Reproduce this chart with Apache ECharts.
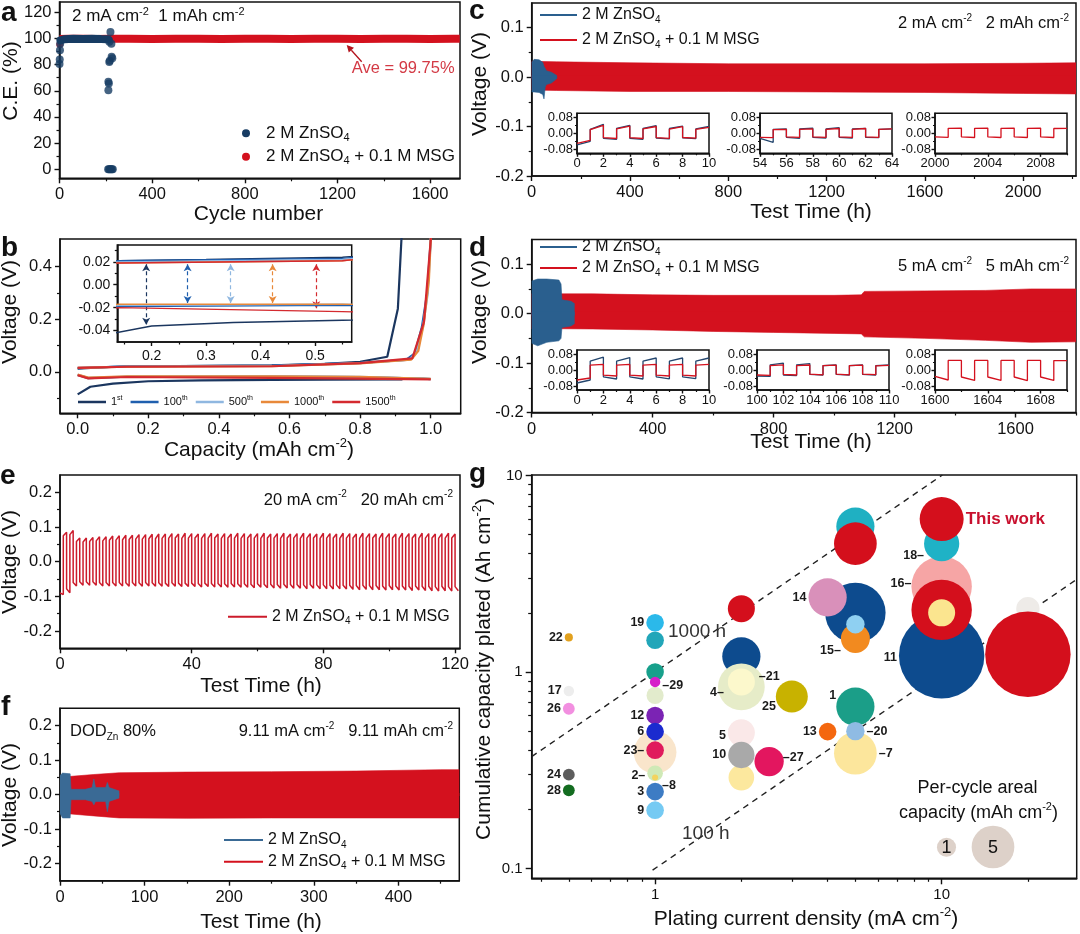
<!DOCTYPE html>
<html><head><meta charset="utf-8">
<script src="https://cdn.jsdelivr.net/npm/echarts@6/dist/echarts.min.js"></script>
<style>html,body{margin:0;padding:0;background:#fff}#chart{width:1080px;height:934px}</style>
</head><body><div id="chart"></div>
<script>
// ================= DATA =================
// (a) Coulombic efficiency vs cycle
const aCyclesMSG = [0,40,100,160,220,300,400,500,600,700,800,900,1000,1100,1200,1300,1400,1500,1600,1700,1728];
const aCE_MSG    = [99.6,99.8,99.8,99.7,99.8,99.8,99.7,99.8,99.8,99.7,99.8,99.8,99.7,99.8,99.8,99.7,99.8,99.8,99.7,99.8,99.8];
const aCyclesMSGPts = [1];
const aCE_MSGPts    = [95.5];
const aCyclesZnBand = [4,20,60,100,140,180,205,212];
const aCE_ZnBand    = [98.6,99.5,99.8,99.7,99.8,99.6,99.5,99.2];
const aCyclesZnPts  = [0,1,2,3,211,211,213,215,217,225,228,220,224,215,210,214,218,222,226,230];
const aCE_ZnPts     = [80.5,84,91,96,67,60.5,65.5,82,83,86,85,105,96,97.5,0,0,0,0,0,0];

// (b) voltage profiles [capacity, voltage]
const b1stStrip  = [[0,0.012],[0.05,0.016],[0.14,0.021],[0.3,0.022],[0.55,0.024],[0.7,0.03],[0.8,0.038],[0.877,0.057],[0.907,0.24],[0.917,0.5],[0.92,0.56]];
const b1stPlate  = [[0,-0.086],[0.036,-0.057],[0.1,-0.045],[0.2,-0.036],[0.35,-0.033],[0.55,-0.031],[0.7,-0.03],[0.92,-0.029]];
const b100Strip  = [[0,0.014],[0.14,0.021],[0.55,0.023],[0.8,0.034],[0.93,0.045],[0.955,0.07],[0.975,0.17],[0.99,0.3],[1.0,0.5],[1.003,0.56]];
const b100Plate  = [[0,-0.012],[0.03,-0.024],[0.14,-0.019],[0.55,-0.018],[0.8,-0.02],[0.98,-0.026],[1.0,-0.028]];
const b500Strip  = [[0,0.015],[0.14,0.02],[0.55,0.022],[0.8,0.033],[0.94,0.046],[0.96,0.075],[0.978,0.17],[0.992,0.3],[1.0,0.5],[1.003,0.56]];
const b500Plate  = [[0,-0.012],[0.03,-0.023],[0.14,-0.018],[0.55,-0.017],[0.8,-0.019],[1.0,-0.027]];
const b1000Strip = [[0,0.015],[0.14,0.019],[0.55,0.021],[0.8,0.032],[0.945,0.046],[0.965,0.08],[0.98,0.18],[0.995,0.35],[1.0,0.5],[1.003,0.56]];
const b1000Plate = [[0,-0.011],[0.03,-0.022],[0.14,-0.017],[0.55,-0.017],[0.8,-0.019],[1.0,-0.027]];
const b1500Strip = [[0,0.015],[0.14,0.019],[0.55,0.021],[0.8,0.033],[0.948,0.051],[0.981,0.19],[1.0,0.5],[1.003,0.56]];
const b1500Plate = [[0,-0.013],[0.03,-0.025],[0.14,-0.02],[0.55,-0.0235],[0.8,-0.026],[1.0,-0.029]];
const bArrowX      = [0.19,0.266,0.345,0.422,0.502];
const bArrowTop    = [0.018,0.018,0.018,0.018,0.018];
const bArrowBottom = [-0.035,-0.016,-0.016,-0.016,-0.0205];

// (c) envelope of the cycling band, 2 mA cm-2
const cTimeRed  = [0,100,400,800,1200,1600,2000,2215];
const cRedUp    = [0.032,0.031,0.029,0.027,0.027,0.027,0.028,0.029];
const cRedLow   = [-0.026,-0.027,-0.029,-0.029,-0.030,-0.031,-0.033,-0.034];
const cTimeBlue = [0,10,30,45,50,55,60,80,100,103];
const cBlueUp   = [0.03,0.036,0.035,0.03,0.022,0.018,0.013,0.01,0.004,0.001];
const cBlueLow  = [-0.03,-0.03,-0.031,-0.035,-0.044,-0.02,-0.015,-0.012,-0.004,-0.001];
// (c) insets: [start, end] voltage of each 1-h half cycle
const cIn1Start = 0, cIn2Start = 54, cIn3Start = 2000;
const cIn1Red  = [[-0.05,-0.035],[0.018,0.04],[-0.022,-0.026],[0.022,0.036],[-0.022,-0.026],[0.022,0.034],[-0.022,-0.025],[0.021,0.033],[-0.021,-0.024],[0.02,0.03]];
const cIn1Blue = [[-0.058,-0.04],[0.02,0.045],[-0.025,-0.03],[0.025,0.04],[-0.025,-0.03],[0.024,0.038],[-0.024,-0.028],[0.024,0.036],[-0.023,-0.027],[0.022,0.034]];
const cIn2Red  = [[-0.02,-0.022],[0.018,0.02],[-0.018,-0.02],[0.02,0.022],[-0.018,-0.02],[0.02,0.024],[-0.018,-0.02],[0.02,0.024],[-0.018,-0.02],[0.02,0.022]];
const cIn2Blue = [[-0.025,-0.045],[0.02,0.022],[-0.02,-0.025],[0.022,0.026],[-0.02,-0.024],[0.022,0.028],[-0.02,-0.024],[0.022,0.025],[-0.02,-0.022],[0.02,0.022]];
const cIn3Red  = [[-0.018,-0.02],[0.025,0.026],[-0.018,-0.021],[0.025,0.026],[-0.018,-0.021],[0.025,0.026],[-0.018,-0.021],[0.025,0.026],[-0.018,-0.021],[0.024,0.025]];

// (d) 5 mA cm-2
const dTimeRed  = [0,200,400,600,800,1000,1090,1100,1300,1500,1650,1800];
const dRedUp    = [0.04,0.04,0.038,0.037,0.037,0.037,0.038,0.045,0.046,0.047,0.05,0.05];
const dRedLow   = [-0.03,-0.031,-0.033,-0.036,-0.038,-0.04,-0.041,-0.047,-0.05,-0.054,-0.058,-0.057];
const dTimeBlue = [0,20,50,90,97,100,130,142];
const dBlueUp   = [0.066,0.07,0.07,0.068,0.06,0.028,0.025,0.02];
const dBlueLow  = [-0.06,-0.065,-0.058,-0.055,-0.05,-0.028,-0.025,-0.02];
const dIn1Start = 0, dIn2Start = 100, dIn3Start = 1600;
const dIn1Red  = [[-0.05,-0.04],[0.024,0.028],[-0.026,-0.03],[0.024,0.028],[-0.026,-0.03],[0.024,0.028],[-0.026,-0.03],[0.024,0.028],[-0.026,-0.03],[0.024,0.028]];
const dIn1Blue = [[-0.065,-0.05],[0.044,0.064],[-0.034,-0.045],[0.044,0.062],[-0.034,-0.045],[0.044,0.06],[-0.034,-0.044],[0.044,0.06],[-0.034,-0.043],[0.044,0.06]];
const dIn2Red  = [[-0.025,-0.027],[0.022,0.026],[-0.022,-0.025],[0.022,0.025],[-0.021,-0.024],[0.022,0.024],[-0.021,-0.024],[0.022,0.024],[-0.021,-0.023],[0.021,0.023]];
const dIn2Blue = [[-0.03,-0.032],[0.026,0.034],[-0.025,-0.028],[0.026,0.032],[-0.022,-0.025],[0.022,0.025],[-0.022,-0.025],[0.022,0.025],[-0.022,-0.025],[0.022,0.025]];
const dIn3Red  = [[-0.032,-0.05],[0.048,0.048],[-0.035,-0.052],[0.048,0.048],[-0.035,-0.052],[0.048,0.048],[-0.035,-0.053],[0.048,0.048],[-0.035,-0.052],[0.047,0.047]];

// (e) 20 mA cm-2: per-cycle voltages (negative half then positive half)
const ePosStart = [0.075,0.078,0.058,0.057,0.058,0.060,0.060,0.062,0.062,0.063, 0.064,0.065,0.065,0.066,0.066,0.067,0.067,0.068,0.067,0.068, 0.068,0.067,0.068,0.068,0.067,0.068,0.068,0.067,0.068,0.068, 0.067,0.068,0.068,0.067,0.068,0.068,0.067,0.068,0.068,0.067, 0.068,0.068,0.067,0.068,0.068,0.067,0.068,0.068,0.067,0.068, 0.068,0.067,0.068,0.068,0.067,0.068,0.068,0.067,0.068,0.068];
const ePosEnd   = [0.085,0.090,0.068,0.068,0.070,0.072,0.072,0.074,0.075,0.076, 0.076,0.078,0.078,0.079,0.080,0.080,0.081,0.080,0.082,0.081, 0.080,0.081,0.082,0.080,0.081,0.080,0.082,0.081,0.080,0.081, 0.082,0.080,0.081,0.082,0.080,0.081,0.082,0.081,0.080,0.082, 0.081,0.080,0.082,0.081,0.080,0.082,0.081,0.080,0.082,0.081, 0.080,0.082,0.081,0.080,0.082,0.081,0.080,0.081,0.082,0.080];
const eNegStart = [-0.090,-0.078,-0.060,-0.058,-0.058,-0.058,-0.060,-0.060,-0.060,-0.060, -0.061,-0.060,-0.061,-0.060,-0.061,-0.061,-0.062,-0.061,-0.062,-0.062, -0.062,-0.063,-0.062,-0.063,-0.063,-0.064,-0.063,-0.064,-0.064,-0.065, -0.064,-0.065,-0.065,-0.066,-0.065,-0.066,-0.066,-0.067,-0.066,-0.067, -0.067,-0.068,-0.067,-0.068,-0.068,-0.069,-0.068,-0.069,-0.069,-0.070, -0.069,-0.070,-0.070,-0.071,-0.070,-0.071,-0.071,-0.072,-0.071,-0.072, -0.072];
const eNegEnd   = [-0.095,-0.090,-0.070,-0.068,-0.068,-0.068,-0.070,-0.070,-0.070,-0.070, -0.071,-0.070,-0.071,-0.070,-0.071,-0.071,-0.072,-0.071,-0.072,-0.072, -0.072,-0.073,-0.072,-0.073,-0.073,-0.074,-0.073,-0.074,-0.074,-0.075, -0.074,-0.075,-0.076,-0.077,-0.076,-0.077,-0.077,-0.078,-0.077,-0.078, -0.078,-0.079,-0.078,-0.079,-0.080,-0.081,-0.080,-0.081,-0.081,-0.082, -0.081,-0.082,-0.082,-0.083,-0.082,-0.083,-0.084,-0.085,-0.084,-0.085, -0.084];
const eHalfHours = 1;

// (f) DOD 80 %
const fTimeRed  = [0,10,40,70,150,250,350,450,472];
const fRedUp    = [0.05,0.052,0.058,0.063,0.065,0.066,0.068,0.072,0.072];
const fRedLow   = [-0.05,-0.056,-0.062,-0.068,-0.069,-0.068,-0.068,-0.068,-0.068];
const fTimeBlue = [0,3,12,13,30,38,40,42,54,56,58,70];
const fBlueUp   = [0.055,0.062,0.06,0.015,0.015,0.02,0.045,0.02,0.02,0.035,0.02,0.01];
const fBlueLow  = [-0.055,-0.068,-0.068,-0.015,-0.015,-0.02,-0.03,-0.02,-0.02,-0.05,-0.02,-0.01];

// (g) literature comparison bubbles (drawing order back to front)
const gCurrent    = [10,10,10,10,10,10,20,20,5,5,5,5,5,4,2,2,2,2,5,5,5,4,3,2,2,2,2.5,1,1,1,1,1,1,1,1,1,1,1,1,1,0.5,0.5,0.5,0.5,0.5];
const gCumulative = [1.21,2.72,2.07,2.0,4.5,6.0,2.1,1.23,5.5,4.5,2.0,1.48,1.75,2.4,2.1,1.2,0.84,0.89,0.386,0.666,0.5,0.497,0.75,0.49,0.29,0.378,0.35,0.39,1.45,1.78,1.0,0.76,0.89,0.6,0.497,0.40,0.305,0.29,0.246,0.198,1.5,0.8,0.65,0.3,0.25];
const gPerCycle   = [20,10,10,2,3.4,5.3,1.5,20,4,5,10,2.3,0.93,4,2,4,6,2,5,4,0.93,0.85,2.8,2,1.8,1.9,2.35,5,0.85,0.85,0.85,0.8,0.3,0.85,0.85,0.85,0.67,0.1,0.85,0.85,0.18,0.3,0.38,0.38,0.38];
const gRefNo      = ['11','16','','','18','This work','','','','','','15','','14','','','4','21','7','1','20','13','25','5','','10','27','','','19','','','29','12','6','23','2','8','3','9','22','17','26','24','28'];
const gRefHours   = [1000, 100];
const gRefLabels  = ['1000 h', '100 h'];

// ================= STYLE =================
const gColors = ['#0d4b8e','#f6a5a5','#d40f1c','#fbe58f','#1fb2c6','#d40f1c','#eeebe8','#d40f1c','#1fb0c2','#d40f1c','#0d4b8e','#f28a1f','#8fd0f2','#d990ba','#d40f1c','#0d4b8e','#e6ecc8','#fcf8cc','#fce69c','#1b9e88','#8fbbe3','#f4670f','#c8b200','#fae8e8','#fce89e','#a9a9a9','#e3165f','#f9e5cb','#22a6b9','#2bb9ea','#17a08b','#e2ebcc','#d61fc9','#7b23b4','#1b2bcf','#e01a5c','#cfe9b6','#f3d35e','#3d7cc4','#75caf3','#e2a11e','#ededed','#f28fe0','#5d5d5d','#136c20'];
const gPlace  = ['l','l-','','','l-','r','','','','','','l-','','l','','','l-','r-','r-','l','r-','l','l','l','','l','r-','','','l','','','r-','l','l','l-','l-','r-','l','l','l','l','l','l','l'];
const gOffset = {0:[0,2],1:[2,-3],4:[2,12],11:[2,12],16:[8,6],17:[2,-5],19:[2,-11],22:[2,10],23:[0,3],26:[-3,-4],32:[0,4],36:[0,2],37:[2,8]};

const FONT = '"Liberation Sans", Arial, Helvetica, sans-serif';
const RED = '#d4111e', BLUE = '#2a5f8e', NAVY = '#173c63';
const zip = (xs, ys) => xs.map((x, i) => [x, ys[i]]);
const rich = s => s.replace(/\^\{([^}]*)\}/g, '{sup|$1}').replace(/_\{([^}]*)\}/g, '{sub|$1}');
const richStyles = (fs, color) => ({
  sup: {fontSize: Math.round(fs * 0.62), lineHeight: Math.round(fs * 0.7), verticalAlign: 'top', fontFamily: FONT, color: color, fill: color},
  sub: {fontSize: Math.round(fs * 0.62), lineHeight: Math.round(fs * 0.7), verticalAlign: 'bottom', fontFamily: FONT, color: color, fill: color}
});
const stripName = n => rich(n.split('::')[1]);

const grids = [], xAxes = [], yAxes = [], series = [], legends = [], graphics = [];
function addGrid(l, t, w, h) {
  grids.push({left: l, top: t, width: w, height: h, show: true, borderColor: '#111', borderWidth: 1.5, backgroundColor: '#fff', containLabel: false});
  return grids.length - 1;
}
function mkAxis(dim, gi, o) {
  const list = dim === 'x' ? xAxes : yAxes;
  const common = {gridIndex: gi, type: o.type || 'value', min: o.min, max: o.max, position: dim === 'x' ? 'bottom' : 'left',
    splitLine: {show: false}, splitArea: {show: false}, silent: true};
  if (o.type === 'log') common.logBase = 10;
  const tl = o.tl || 5;
  list.push(Object.assign({}, common, {
    axisLine: {show: true, onZero: false, lineStyle: {color: '#111', width: 1.5}},
    axisTick: {show: true, customValues: o.major, length: tl, lineStyle: {color: '#111', width: 1.4}},
    axisLabel: {show: true, customValues: o.major, formatter: o.fmt, fontSize: o.fs || 16.5, fontFamily: FONT, color: '#111',
      margin: o.margin != null ? o.margin : tl + 3, hideOverlap: false}
  }));
  const idx = list.length - 1;
  if (o.minor) list.push(Object.assign({}, common, {
    axisLine: {show: false, onZero: false},
    axisTick: {show: true, customValues: o.minor, length: o.ml || 3, lineStyle: {color: '#111', width: 1.2}},
    axisLabel: {show: false}
  }));
  return idx;
}
const f1 = v => v.toFixed(1), f2 = v => v.toFixed(2), f0 = v => String(v);

function lineS(name, xi, yi, data, color, width, z, extra) {
  series.push(Object.assign({type: 'line', name, xAxisIndex: xi, yAxisIndex: yi, data, symbol: 'none', showSymbol: false,
    lineStyle: {color, width}, itemStyle: {color}, z: z || 2, silent: true, animation: false}, extra || {}));
  return series[series.length - 1];
}
// band: upper edge filled down past zero, lower edge filled up past zero (overlap hides the seam)
function band(name, xi, yi, times, up, low, color, z) {
  lineS(name, xi, yi, zip(times, up), color, 0.6, z, {areaStyle: {color, opacity: 1, origin: -0.004}});
  lineS(name, xi, yi, zip(times, low), color, 0.6, z, {areaStyle: {color, opacity: 1, origin: 0.004}});
}
function halfCycleWave(start, levels) {
  const pts = [];
  levels.forEach((lv, i) => { pts.push([start + i, lv[0]]); pts.push([start + i + 1, lv[1]]); });
  return pts;
}
function legendRow(name, left, centerY, opt) {
  const fs = opt.fs || 16;
  legends.push({show: true, selectedMode: false, padding: 0, orient: 'horizontal', left, top: centerY - 10,
    data: [name], icon: opt.icon || 'rect', itemWidth: opt.iw || 37, itemHeight: opt.ih || 2, itemGap: 8,
    formatter: stripName, textStyle: {fontSize: fs, fontFamily: FONT, color: '#111', lineHeight: 20, rich: richStyles(fs, '#111')}});
}
function T(t, x, y, fs, o) {
  o = o || {};
  const color = o.color || '#111';
  graphics.push({type: 'text', x, y, rotation: o.rot || 0, z: 100, silent: true,
    style: {text: rich(t), fill: color, fontSize: fs, fontFamily: FONT, fontWeight: o.bold ? 'bold' : 'normal',
      align: o.align || 'left', textAlign: o.align || 'left', verticalAlign: 'middle', textVerticalAlign: 'middle',
      lineHeight: Math.round(fs * 1.25), rich: richStyles(fs, color)}});
}

// ================= PANEL a =================
const gA = addGrid(59.5, 2, 400.5, 176.3);
const aX = mkAxis('x', gA, {min: 0, max: 1729, major: [0,400,800,1200,1600], minor: [200,600,1000,1400], fmt: f0});
const aY = mkAxis('y', gA, {min: -7, max: 128, major: [0,20,40,60,80,100,120], minor: [10,30,50,70,90,110], fmt: f0});
lineS('a::2 M ZnSO_{4} + 0.1 M MSG', aX, aY, zip(aCyclesMSG, aCE_MSG), RED, 8, 3, {lineStyle: {color: RED, width: 8, cap: 'butt'}});
series.push({type: 'scatter', name: 'a::2 M ZnSO_{4} + 0.1 M MSG', xAxisIndex: aX, yAxisIndex: aY, data: zip(aCyclesMSGPts, aCE_MSGPts), symbolSize: 7, itemStyle: {color: RED}, z: 3, silent: true});
lineS('a::2 M ZnSO_{4}', aX, aY, zip(aCyclesZnBand, aCE_ZnBand), NAVY, 8, 4, {lineStyle: {color: NAVY, width: 8, cap: 'round'}});
series.push({type: 'scatter', name: 'a::2 M ZnSO_{4}', xAxisIndex: aX, yAxisIndex: aY, data: zip(aCyclesZnPts, aCE_ZnPts), symbolSize: 8, itemStyle: {color: NAVY}, z: 5, silent: true});
legendRow('a::2 M ZnSO_{4}', 242, 133.3, {icon: 'circle', iw: 30, ih: 8, fs: 17});
legendRow('a::2 M ZnSO_{4} + 0.1 M MSG', 242, 156.7, {icon: 'circle', iw: 30, ih: 8, fs: 17});
// arrow for the average
(function () {
  const tail = [361.7, 61.7], tip = [346.7, 45];
  const dx = tip[0] - tail[0], dy = tip[1] - tail[1], L = Math.hypot(dx, dy), ux = dx / L, uy = dy / L;
  const bx = tip[0] - 7 * ux, by = tip[1] - 7 * uy, px = -uy, py = ux;
  graphics.push({type: 'polyline', z: 100, silent: true, shape: {points: [tail, [bx, by]]}, style: {stroke: '#b3121c', lineWidth: 1.3, fill: null}});
  graphics.push({type: 'polygon', z: 100, silent: true, shape: {points: [tip, [bx + 3.5 * px, by + 3.5 * py], [bx - 3.5 * px, by - 3.5 * py]]}, style: {fill: '#b3121c'}});
})();

// ================= PANEL b =================
const gB = addGrid(60, 239, 400.7, 174.3);
const bX = mkAxis('x', gB, {min: -0.05, max: 1.085, major: [0,0.2,0.4,0.6,0.8,1.0], minor: [0.1,0.3,0.5,0.7,0.9], fmt: f1});
const bY = mkAxis('y', gB, {min: -0.158, max: 0.505, major: [0,0.2,0.4], minor: [-0.1,0.1,0.3], fmt: f1});
const bCycles = [
  ['b::1^{st}', '#1b365f', b1stStrip, b1stPlate],
  ['b::100^{th}', '#1f5fae', b100Strip, b100Plate],
  ['b::500^{th}', '#8fb7e0', b500Strip, b500Plate],
  ['b::1000^{th}', '#e8893a', b1000Strip, b1000Plate],
  ['b::1500^{th}', '#d42a2f', b1500Strip, b1500Plate]
];
const gBi = addGrid(117.3, 245, 234.4, 97);
const biX = mkAxis('x', gBi, {min: 0.137, max: 0.567, major: [0.2,0.3,0.4,0.5], minor: [0.15,0.25,0.35,0.45,0.55], fmt: f1, fs: 14, tl: 4, ml: 2.5});
const biY = mkAxis('y', gBi, {min: -0.05, max: 0.0347, major: [-0.04,-0.02,0,0.02], minor: [-0.03,-0.01,0.01,0.03], fmt: f2, fs: 14, tl: 4, ml: 2.5});
bCycles.forEach((c, i) => {
  lineS(c[0], bX, bY, c[2], c[1], 2.2, 3 + i);
  lineS(c[0], bX, bY, c[3], c[1], 2.2, 3 + i);
  lineS(c[0], biX, biY, c[2], c[1], 1.4, 13 + i);
  lineS(c[0], biX, biY, c[3], c[1], 1.4, 13 + i, {markLine: {silent: true, symbol: ['arrow', 'arrow'], symbolSize: [6, 7], precision: 4,
    lineStyle: {type: [4, 3], color: c[1], width: 1.2}, label: {show: false},
    data: [[{coord: [bArrowX[i], bArrowTop[i]]}, {coord: [bArrowX[i], bArrowBottom[i]]}]]}});
});
legends.push({show: true, selectedMode: false, padding: 0, orient: 'horizontal', left: 78, top: 395, itemWidth: 28, itemHeight: 2.5, itemGap: 8,
  icon: 'rect', data: bCycles.map(c => c[0]), formatter: stripName,
  textStyle: {fontSize: 11, fontFamily: FONT, color: '#111', lineHeight: 14, rich: richStyles(11, '#111')}});

// ================= PANEL c =================
const gC = addGrid(531.7, 3, 544.3, 173);
const cX = mkAxis('x', gC, {min: 0, max: 2215, major: [0,400,800,1200,1600,2000], minor: [200,600,1000,1400,1800,2200], fmt: f0});
const cY = mkAxis('y', gC, {min: -0.2, max: 0.15, major: [-0.2,-0.1,0,0.1], minor: [-0.15,-0.05,0.05], fmt: f1});
band('c::2 M ZnSO_{4} + 0.1 M MSG', cX, cY, cTimeRed, cRedUp, cRedLow, RED, 3);
band('c::2 M ZnSO_{4}', cX, cY, cTimeBlue, cBlueUp, cBlueLow, BLUE, 4);
legendRow('c::2 M ZnSO_{4}', 540, 15, {});
legendRow('c::2 M ZnSO_{4} + 0.1 M MSG', 540, 40, {});
function insets(top, specs) {
  specs.forEach(s => {
    const gi = addGrid(s.left, top, 132, 40);
    const xi = mkAxis('x', gi, {min: s.min, max: s.min + 10, major: s.major, minor: s.minor, fmt: f0, fs: 13, tl: 3.5, ml: 2, margin: 4});
    const yi = mkAxis('y', gi, {min: -0.1, max: 0.1, major: [-0.08,0,0.08], minor: [-0.04,0.04], fmt: f2, fs: 13, tl: 3.5, ml: 2, margin: 4});
    if (s.blue) lineS(s.blueName, xi, yi, halfCycleWave(s.min, s.blue), '#24466e', 1.3, 10);
    lineS(s.redName, xi, yi, halfCycleWave(s.min, s.red), RED, 1.3, 11);
  });
}
insets(113.3, [
  {left: 577, min: cIn1Start, major: [0,2,4,6,8,10], minor: [1,3,5,7,9], red: cIn1Red, blue: cIn1Blue, redName: 'c::2 M ZnSO_{4} + 0.1 M MSG', blueName: 'c::2 M ZnSO_{4}'},
  {left: 760, min: cIn2Start, major: [54,56,58,60,62,64], minor: [55,57,59,61,63], red: cIn2Red, blue: cIn2Blue, redName: 'c::2 M ZnSO_{4} + 0.1 M MSG', blueName: 'c::2 M ZnSO_{4}'},
  {left: 935, min: cIn3Start, major: [2000,2004,2008], minor: [2002,2006,2010], red: cIn3Red, redName: 'c::2 M ZnSO_{4} + 0.1 M MSG'}
]);

// ================= PANEL d =================
const gD = addGrid(531.7, 239.5, 544.3, 173);
const dX = mkAxis('x', gD, {min: 0, max: 1800, major: [0,400,800,1200,1600], minor: [200,600,1000,1400,1800], fmt: f0});
const dY = mkAxis('y', gD, {min: -0.2, max: 0.15, major: [-0.2,-0.1,0,0.1], minor: [-0.15,-0.05,0.05], fmt: f1});
band('d::2 M ZnSO_{4} + 0.1 M MSG', dX, dY, dTimeRed, dRedUp, dRedLow, RED, 3);
band('d::2 M ZnSO_{4}', dX, dY, dTimeBlue, dBlueUp, dBlueLow, BLUE, 4);
legendRow('d::2 M ZnSO_{4}', 540, 247, {});
legendRow('d::2 M ZnSO_{4} + 0.1 M MSG', 540, 268, {});
insets(350, [
  {left: 577, min: dIn1Start, major: [0,2,4,6,8,10], minor: [1,3,5,7,9], red: dIn1Red, blue: dIn1Blue, redName: 'd::2 M ZnSO_{4} + 0.1 M MSG', blueName: 'd::2 M ZnSO_{4}'},
  {left: 757, min: dIn2Start, major: [100,102,104,106,108,110], minor: [101,103,105,107,109], red: dIn2Red, blue: dIn2Blue, redName: 'd::2 M ZnSO_{4} + 0.1 M MSG', blueName: 'd::2 M ZnSO_{4}'},
  {left: 935, min: dIn3Start, major: [1600,1604,1608], minor: [1602,1606,1610], red: dIn3Red, redName: 'd::2 M ZnSO_{4} + 0.1 M MSG'}
]);

// ================= PANEL e =================
const gE = addGrid(60, 475, 400, 173.3);
const eX = mkAxis('x', gE, {min: 0, max: 121.5, major: [0,40,80,120], minor: [20,60,100], fmt: f0});
const eY = mkAxis('y', gE, {min: -0.25, max: 0.25, major: [-0.2,-0.1,0,0.1,0.2], minor: [-0.15,-0.05,0.05,0.15], fmt: f1});
const eWave = [];
eNegStart.forEach((_, k) => {
  const t0 = 2 * k * eHalfHours;
  eWave.push([t0, eNegStart[k]], [t0 + eHalfHours, eNegEnd[k]]);
  if (k < ePosEnd.length) eWave.push([t0 + eHalfHours, ePosStart[k]], [t0 + 2 * eHalfHours, ePosEnd[k]]);
});
lineS('e::2 M ZnSO_{4} + 0.1 M MSG', eX, eY, eWave, '#cc1b2b', 1.5, 3);
legendRow('e::2 M ZnSO_{4} + 0.1 M MSG', 228, 616.7, {iw: 39});

// ================= PANEL f =================
const gF = addGrid(60, 708.3, 399.3, 172.4);
const fX = mkAxis('x', gF, {min: 0, max: 472, major: [0,100,200,300,400], minor: [50,150,250,350,450], fmt: f0});
const fY = mkAxis('y', gF, {min: -0.25, max: 0.25, major: [-0.2,-0.1,0,0.1,0.2], minor: [-0.15,-0.05,0.05,0.15], fmt: f1});
band('f::2 M ZnSO_{4} + 0.1 M MSG', fX, fY, fTimeRed, fRedUp, fRedLow, RED, 3);
band('f::2 M ZnSO_{4}', fX, fY, fTimeBlue, fBlueUp, fBlueLow, '#3a6a95', 4);
legendRow('f::2 M ZnSO_{4}', 224, 840, {iw: 39});
legendRow('f::2 M ZnSO_{4} + 0.1 M MSG', 224, 861.7, {iw: 39});

// ================= PANEL g =================
const gG = addGrid(531.7, 475, 545, 403.3);
const gX = mkAxis('x', gG, {type: 'log', min: 0.371, max: 29.6, major: [1,10], minor: [0.4,0.5,0.6,0.7,0.8,0.9,2,3,4,5,6,7,8,9,20], fmt: f0, fs: 15, tl: 6, ml: 3.5});
const gY = mkAxis('y', gG, {type: 'log', min: 0.0891, max: 10.06, major: [0.1,1,10], minor: [0.2,0.3,0.4,0.5,0.6,0.7,0.8,0.9,2,3,4,5,6,7,8,9], fmt: f0, fs: 15, tl: 6, ml: 3.5});
gRefHours.forEach(h => {
  const xs = h === 1000 ? [0.371, 10.06] : [0.98, 29.6];
  lineS('g::ref' + h, gX, gY, xs.map(x => [x, x * h / 1000]), '#222', 1.4, 2, {lineStyle: {color: '#222', width: 1.4, type: [6, 5]}});
});
series.push({type: 'scatter', name: 'g::bubbles', xAxisIndex: gX, yAxisIndex: gY, z: 5, silent: true, animation: false,
  symbolSize: v => 19.1 * Math.sqrt(v[2]),
  data: gCurrent.map((x, i) => {
    const pl = gPlace[i], txt = gRefNo[i];
    const lab = !txt ? {show: false} : {
      show: true, position: pl[0] === 'l' ? 'left' : 'right', distance: 2, offset: gOffset[i] || [0, 0],
      formatter: pl === 'l-' ? txt + '–' : pl === 'r-' ? '–' + txt : txt,
      fontFamily: FONT, fontWeight: 'bold', fontSize: txt === 'This work' ? 17 : 12.5, color: txt === 'This work' ? '#c8102e' : '#1a1a1a'};
    return {value: [x, gCumulative[i], gPerCycle[i]], itemStyle: {color: gColors[i], opacity: 1}, label: lab};
  })
});
graphics.push({type: 'circle', z: 100, silent: true, shape: {cx: 946.5, cy: 847.3, r: 19.1 * Math.sqrt(1) / 2}, style: {fill: '#ddd1c9'}});
graphics.push({type: 'circle', z: 100, silent: true, shape: {cx: 993, cy: 847, r: 19.1 * Math.sqrt(5) / 2}, style: {fill: '#ddd1c9'}});

// ================= TEXTS =================
[['a',1,13],['b',1,248],['c',469,11],['d',469,248],['e',0,476],['f',1,707],['g',469,474]].forEach(p => T(p[0], p[1], p[2], 28, {bold: true}));
T('C.E. (%)', 11, 81, 21, {rot: Math.PI / 2, align: 'center'});
T('Cycle number', 258.5, 214, 21, {align: 'center'});
T('Voltage (V)', 10, 312, 21, {rot: Math.PI / 2, align: 'center'});
T('Capacity (mAh cm^{-2})', 259, 450, 21, {align: 'center'});
T('Voltage (V)', 480, 84, 21, {rot: Math.PI / 2, align: 'center'});
T('Test Time (h)', 811, 212, 21, {align: 'center'});
T('Voltage (V)', 480, 312, 21, {rot: Math.PI / 2, align: 'center'});
T('Test Time (h)', 811, 442, 21, {align: 'center'});
T('Voltage (V)', 10, 562, 21, {rot: Math.PI / 2, align: 'center'});
T('Test Time (h)', 261, 686, 21, {align: 'center'});
T('Voltage (V)', 10, 795, 21, {rot: Math.PI / 2, align: 'center'});
T('Test Time (h)', 261, 922, 21, {align: 'center'});
T('Cumulative capacity plated (Ah cm^{-2})', 484, 669, 21, {rot: Math.PI / 2, align: 'center'});
T('Plating current density (mA cm^{-2})', 806, 919, 21, {align: 'center'});
T('2 mA cm^{-2}  1 mAh cm^{-2}', 72, 16.7, 17);
T('Ave = 99.75%', 351.7, 68.3, 16.5, {color: '#d33a45'});
T('2 mA cm^{-2}   2 mAh cm^{-2}', 1069, 23.3, 16.5, {align: 'right'});
T('5 mA cm^{-2}   5 mAh cm^{-2}', 1069, 266.7, 16.5, {align: 'right'});
T('20 mA cm^{-2}   20 mAh cm^{-2}', 453, 500, 16.5, {align: 'right'});
T('DOD_{Zn} 80%', 70, 731.7, 16.5);
T('9.11 mA cm^{-2}   9.11 mAh cm^{-2}', 453, 731.7, 16.5, {align: 'right'});
T(gRefLabels[0], 668, 631.7, 19, {color: '#333'});
T(gRefLabels[1], 682, 833.3, 19, {color: '#333'});
T('Per-cycle areal', 977.5, 788.3, 18, {align: 'center'});
T('capacity (mAh cm^{-2})', 978.5, 813.3, 18, {align: 'center'});
T('1', 946.5, 848, 18, {align: 'center'});
T('5', 993, 848, 18, {align: 'center'});

const chart = echarts.init(document.getElementById('chart'), null, {renderer: 'canvas'});
chart.setOption({animation: false, backgroundColor: '#fff', textStyle: {fontFamily: FONT},
  grid: grids, xAxis: xAxes, yAxis: yAxes, series, legend: legends, graphic: {elements: graphics}});
</script></body></html>
